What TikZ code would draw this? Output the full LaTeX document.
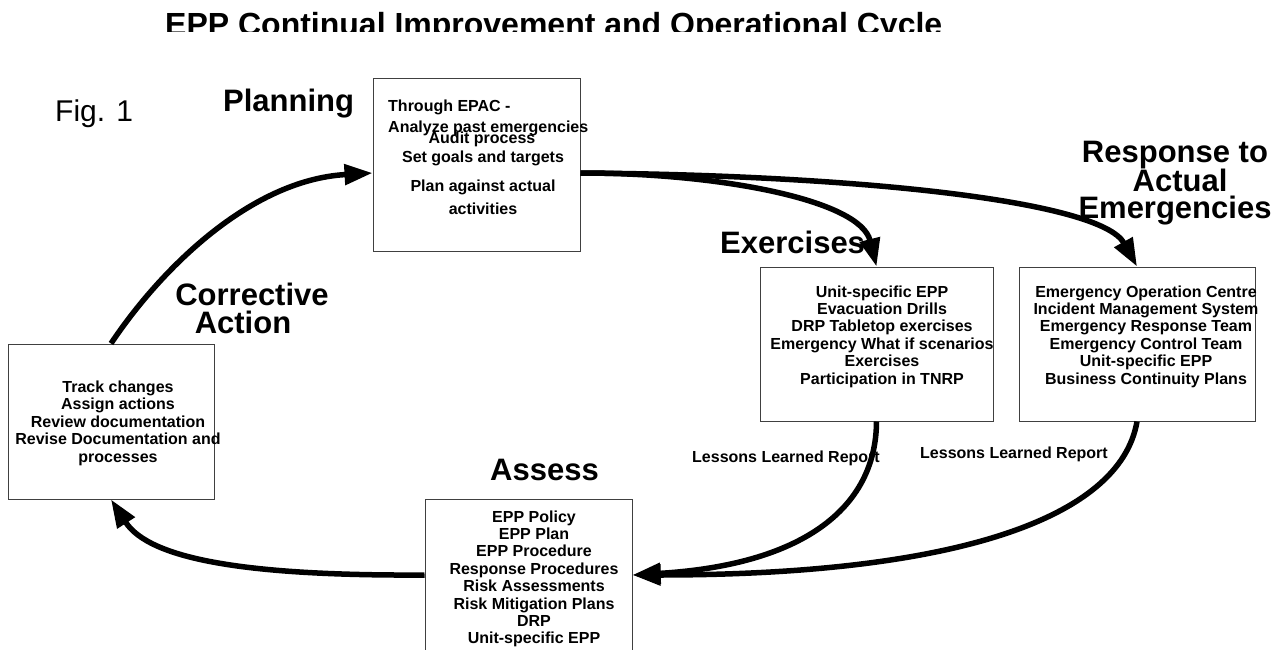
\documentclass[tikz,border=0pt]{standalone}
\usepackage{fontspec}
\setmainfont{Liberation Sans}
\usetikzlibrary{arrows.meta}
\begin{document}
\begin{tikzpicture}[x=1pt,y=-1pt,
  box/.style={draw=black!75, line width=1pt, rectangle, inner sep=0pt},
  big/.style={font=\fontsize{31}{31}\selectfont\bfseries, inner sep=0pt, anchor=base},
  txt/.style={font=\fontsize{16}{17}\selectfont\bfseries, inner sep=0pt, anchor=base},
  flow/.style={line width=5.5pt, -{Triangle[length=28pt,width=20pt]}}]
\useasboundingbox (0,0) rectangle (1277,650);
\fill[white] (0,0) rectangle (1277,650);
\clip (0,0) rectangle (1277,650);

% title (clipped at the top band as in the reference)
\begin{scope}
  \clip (0,0) rectangle (1277,32);
  \node[font=\fontsize{32}{32}\selectfont\bfseries, inner sep=0pt, anchor=base west] (title) at (165,36) {EPP Continual Improvement and Operational Cycle};
\end{scope}

\node[font=\fontsize{30}{30}\selectfont, inner sep=0pt, anchor=base west] (fig) at (55,122) {Fig. 1};

% boxes
\node[box, minimum width=207pt, minimum height=172pt] (plan) at (476.5,165) {};
\node[box, minimum width=206pt, minimum height=155pt] (corr) at (111,421.5) {};
\node[box, minimum width=233pt, minimum height=154pt] (ex) at (876.5,344) {};
\node[box, minimum width=236pt, minimum height=154pt] (resp) at (1137,344) {};
\node[box, minimum width=207pt, minimum height=171pt] (assess) at (528.5,584.5) {};

% big labels
\node[big, anchor=base west] (lplan) at (223,112) {Planning};
\node[big, anchor=base west] (lex) at (720,253) {Exercises};
\node[big] (lcorr1) at (252,305) {Corrective};
\node[big] (lcorr2) at (243,333) {Action};
\node[big] (lresp1) at (1175,163) {Response to};
\node[big] (lresp2) at (1180,191) {Actual};
\node[big] (lresp3) at (1175,218) {Emergencies};
\node[big, anchor=base west] (lassess) at (490,480) {Assess};

% planning box text
\node[txt, anchor=base west] (p1) at (388,112) {Through EPAC -};
\node[txt, anchor=base west] (p2) at (388,132) {Analyze past emergencies};
\node[txt] (p3) at (482,144) {Audit process};
\node[txt] (p4) at (483,162) {Set goals and targets};
\node[txt] (p5) at (483,191) {Plan against actual};
\node[txt] (p6) at (483,214) {activities};

% corrective box text
\foreach \t [count=\i] in {Track changes, Assign actions, Review documentation, Revise Documentation and, processes}
  \node[txt] (c\i) at (118,{392+17.5*(\i-1)}) {\t};

% exercises box text
\foreach \t [count=\i] in {Unit-specific EPP, Evacuation Drills, DRP Tabletop exercises, Emergency What if scenarios, Exercises, Participation in TNRP}
  \node[txt] (e\i) at (882,{297+17.4*(\i-1)}) {\t};

% response box text
\foreach \t [count=\i] in {Emergency Operation Centre, Incident Management System, Emergency Response Team, Emergency Control Team, Unit-specific EPP, Business Continuity Plans}
  \node[txt] (r\i) at (1146,{297+17.4*(\i-1)}) {\t};

% assess box text
\foreach \t [count=\i] in {EPP Policy, EPP Plan, EPP Procedure, Response Procedures, Risk Assessments, Risk Mitigation Plans, DRP, Unit-specific EPP}
  \node[txt] (a\i) at (534,{522+17.4*(\i-1)}) {\t};

% lessons learned labels
\node[txt, anchor=base west] (ll1) at (692,462) {Lessons Learned Report};
\node[txt, anchor=base west] (ll2) at (920,458) {Lessons Learned Report};

% connectors
\draw[flow] (corr.north) .. controls (160,270) and (250,180) .. ([yshift=-8pt]plan.west);
\draw[flow] ([yshift=-8pt]plan.east) .. controls (720,173) and (860,200) .. (ex.north);
\draw[flow] ([yshift=-8pt]plan.east) .. controls (850,175) and (1100,200) .. (resp.north);
\draw[flow] (ex.south) .. controls (876,510) and (800,565) .. ([yshift=9.5pt]assess.east);
\draw[flow] (resp.south) .. controls (1120,520) and (950,575) .. ([yshift=9.5pt]assess.east);
\draw[flow] ([yshift=9.5pt]assess.west) .. controls (250,576) and (150,560) .. (corr.south);
\end{tikzpicture}
\end{document}
